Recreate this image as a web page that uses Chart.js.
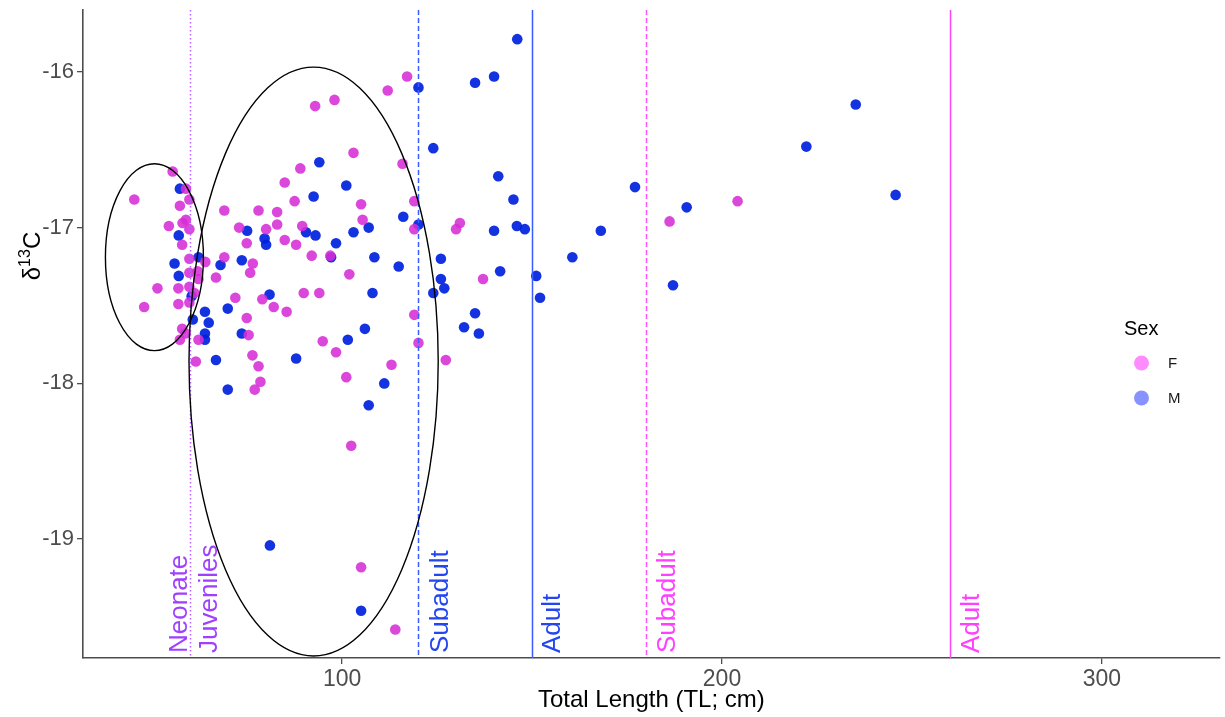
<!DOCTYPE html>
<html>
<head>
<meta charset="utf-8">
<title>d13C vs total length</title>
<script src="https://cdn.jsdelivr.net/npm/chart.js@4.4.0/dist/chart.umd.min.js"></script>
<style>
    html, body { margin: 0; padding: 0; background: #fff; }
    #wrap { width: 1225px; height: 717px; }
</style>
</head>
<body>
<div id="wrap"><canvas id="chart" width="1225" height="717"></canvas></div>
<script>
// females - total length (cm) and d13C
const femaleTL = [
    55.4, 58.9, 45.3, 59.8, 57.3, 69.0, 58.9, 58.0, 54.4, 59.8, 72.9, 57.9, 59.8, 64.0, 69.0, 62.0,
    59.8, 66.8, 62.2, 51.4, 56.9, 59.8, 61.1, 71.9, 47.9, 56.9, 59.8, 57.9, 58.8, 57.3, 62.2, 61.5,
    117.1, 112.0, 98.0, 92.9, 103.0, 89.0, 115.9, 84.9, 87.5, 105.0, 119.0, 78.0, 82.9, 105.4, 82.9, 80.0,
    89.5, 119.0, 74.9, 84.9, 87.9, 92.0, 96.9, 76.5, 75.8, 101.9, 79.0, 89.9, 94.0, 82.0, 85.4, 74.9,
    119.0, 75.4, 94.9, 98.4, 120.1, 127.3, 76.4, 78.0, 113.0, 101.1, 78.5, 77.0, 102.4, 204.1, 131.0, 130.0,
    186.2, 137.1, 105.0, 114.0
];
const femaleC13 = [
    -16.64, -16.75, -16.82, -16.82, -16.86, -16.89, -16.95, -16.97, -16.99, -17.01, -17.00, -17.11, -17.20, -17.22, -17.19, -17.28,
    -17.29, -17.32, -17.33, -17.39, -17.39, -17.38, -17.42, -17.45, -17.51, -17.49, -17.48, -17.65, -17.68, -17.72, -17.72, -17.86,
    -16.03, -16.12, -16.18, -16.22, -16.52, -16.62, -16.59, -16.71, -16.83, -16.85, -16.83, -16.89, -16.90, -16.95, -16.98, -17.01,
    -16.99, -17.01, -17.10, -17.08, -17.11, -17.18, -17.18, -17.23, -17.29, -17.30, -17.46, -17.42, -17.42, -17.51, -17.54, -17.58,
    -17.56, -17.69, -17.73, -17.80, -17.74, -17.85, -17.82, -17.89, -17.88, -17.96, -17.99, -18.04, -18.40, -16.83, -16.97, -17.01,
    -16.96, -17.33, -19.18, -19.58
];

// males
const maleTL = [
    57.3, 57.0, 62.2, 55.9, 68.0, 57.0, 60.4, 69.9, 63.9, 60.7, 64.9, 63.9, 63.9, 66.8, 73.6, 73.6,
    120.1, 124.0, 94.0, 101.1, 92.5, 116.1, 75.0, 90.5, 93.0, 103.0, 107.0, 120.1, 79.6, 80.0, 98.4, 97.1,
    108.5, 114.9, 126.0, 126.0, 126.9, 124.0, 80.9, 108.0, 106.0, 101.5, 87.9, 111.1, 69.9, 107.0,
    146.1, 140.0, 135.0, 141.1, 177.1, 145.1, 190.7, 140.0, 146.0, 148.1, 168.1, 160.6, 141.6, 151.1, 152.1, 187.1,
    135.0, 132.1, 136.0, 235.2, 222.2, 245.7, 81.0, 105.0
];
const maleC13 = [
    -16.75, -17.05, -17.19, -17.23, -17.24, -17.31, -17.44, -17.52, -17.54, -17.59, -17.61, -17.68, -17.72, -17.85, -17.68, -17.21,
    -16.10, -16.49, -16.58, -16.73, -16.80, -16.93, -17.02, -17.03, -17.05, -17.03, -17.00, -16.98, -17.07, -17.11, -17.10, -17.19,
    -17.19, -17.25, -17.20, -17.33, -17.39, -17.42, -17.43, -17.42, -17.65, -17.72, -17.84, -18.00, -18.04, -18.14,
    -15.79, -16.03, -16.07, -16.67, -16.74, -16.82, -16.87, -17.02, -16.99, -17.01, -17.02, -17.19, -17.28, -17.31, -17.45, -17.37,
    -17.55, -17.64, -17.68, -16.21, -16.48, -16.79, -19.04, -19.46
];

const xTicks = [100, 200, 300];
const yTicks = [-19, -18, -17, -16];

// life stage cut-offs (TL) and their labels
const stageLineTL = [60, 120, 150, 180, 260];
const stageLabels = ['Neonate', 'Juveniles', 'Subadult', 'Adult', 'Subadult', 'Adult'];
const stageLabelTL = [60, 60, 120, 150, 180, 260];

// the two hand drawn ellipses (centre and half axes, data units)
const ellipseTL = [50.6, 92.5];
const ellipseC13 = [-17.19, -17.86];
const ellipseHalfTL = [12.9, 32.8];
const ellipseHalfC13 = [0.60, 1.89];

const FONT = '"Liberation Sans", Arial, sans-serif';

// styles for the stage lines, same order as stageLineTL
const lineStyles = [
    { color: '#b561ff', dash: [1.5, 2.5] },
    { color: '#3a5cff', dash: [5, 3] },
    { color: '#3a5cff', dash: [] },
    { color: '#ff55ff', dash: [5, 3] },
    { color: '#ff44ff', dash: [] }
];
// label colour + baseline offset from its line (px)
const labelStyles = [
    { color: '#a040ff', dx: -3 },
    { color: '#a040ff', dx: 27 },
    { color: '#2446f0', dx: 30 },
    { color: '#2446f0', dx: 28 },
    { color: '#ff40ff', dx: 29 },
    { color: '#ff40ff', dx: 29 }
];

const toPoints = (xs, ys) => xs.map((x, i) => ({ x: x, y: ys[i] }));

const annotationsPlugin = {
    id: 'annotations',
    afterDatasetsDraw(chart) {
        const { ctx, chartArea, scales: { x, y } } = chart;
        ctx.save();
        ctx.beginPath();
        ctx.rect(chartArea.left, chartArea.top, chartArea.right - chartArea.left, chartArea.bottom - chartArea.top);
        ctx.clip();

        // vertical stage lines
        stageLineTL.forEach((tl, i) => {
            const px = Math.round(x.getPixelForValue(tl)) + 0.5;
            ctx.beginPath();
            ctx.setLineDash(lineStyles[i].dash);
            ctx.strokeStyle = lineStyles[i].color;
            ctx.lineWidth = 1.5;
            ctx.moveTo(px, chartArea.top);
            ctx.lineTo(px, chartArea.bottom);
            ctx.stroke();
        });
        ctx.setLineDash([]);

        // ellipses
        ellipseTL.forEach((cx, i) => {
            const px = x.getPixelForValue(cx);
            const py = y.getPixelForValue(ellipseC13[i]);
            const rx = Math.abs(x.getPixelForValue(cx + ellipseHalfTL[i]) - px);
            const ry = Math.abs(y.getPixelForValue(ellipseC13[i] + ellipseHalfC13[i]) - py);
            ctx.beginPath();
            ctx.ellipse(px, py, rx, ry, 0, 0, Math.PI * 2);
            ctx.strokeStyle = '#000';
            ctx.lineWidth = 1.4;
            ctx.stroke();
        });

        // rotated stage labels
        ctx.font = '26px ' + FONT;
        ctx.textAlign = 'left';
        ctx.textBaseline = 'alphabetic';
        stageLabels.forEach((label, i) => {
            const px = x.getPixelForValue(stageLabelTL[i]) + labelStyles[i].dx;
            ctx.save();
            ctx.translate(px, chartArea.bottom - 5);
            ctx.rotate(-Math.PI / 2);
            ctx.fillStyle = labelStyles[i].color;
            ctx.fillText(label, 0, 0);
            ctx.restore();
        });
        ctx.restore();
    },
    afterDraw(chart) {
        const { ctx } = chart;
        ctx.save();

        // y axis title: delta 13 C
        ctx.translate(40, 256);
        ctx.rotate(-Math.PI / 2);
        ctx.fillStyle = '#000';
        ctx.textBaseline = 'alphabetic';
        const big = '24px ' + FONT;
        const small = '16px ' + FONT;
        ctx.font = big;
        const wD = ctx.measureText('\u03B4').width;
        const wC = ctx.measureText('C').width;
        ctx.font = small;
        const w13 = ctx.measureText('13').width;
        let cx = -(wD + w13 + wC) / 2;
        ctx.textAlign = 'left';
        ctx.font = big;
        ctx.fillText('\u03B4', cx, 0);
        cx += wD;
        ctx.font = small;
        ctx.fillText('13', cx, -10);
        cx += w13;
        ctx.font = big;
        ctx.fillText('C', cx, 0);
        ctx.restore();

        // legend
        ctx.save();
        ctx.fillStyle = '#000';
        ctx.font = '20px ' + FONT;
        ctx.textBaseline = 'middle';
        ctx.textAlign = 'left';
        ctx.fillText('Sex', 1124, 329);
        const keys = [
            { label: 'F', color: 'rgba(255, 0, 255, 0.45)', y: 363 },
            { label: 'M', color: 'rgba(20, 40, 255, 0.5)', y: 398 }
        ];
        keys.forEach(k => {
            ctx.beginPath();
            ctx.arc(1141.5, k.y, 7.5, 0, Math.PI * 2);
            ctx.fillStyle = k.color;
            ctx.fill();
            ctx.fillStyle = '#1a1a1a';
            ctx.font = '15px ' + FONT;
            ctx.fillText(k.label, 1168, k.y + 1);
        });
        ctx.restore();
    }
};

// drop the extra room Chart.js keeps for half tick labels
const noPadding = s => {
    s.paddingTop = 0;
    s.paddingBottom = 0;
    s.paddingLeft = 0;
    s.paddingRight = 0;
};

const axisCommon = {
    grid: { drawOnChartArea: false, drawTicks: true, tickLength: 6, color: '#4d4d4d', lineWidth: 1.3 },
    border: { display: true, color: '#4d4d4d', width: 1.6 }
};

new Chart(document.getElementById('chart'), {
    type: 'scatter',
    data: {
        datasets: [
            {
                label: 'F',
                data: toPoints(femaleTL, femaleC13),
                pointRadius: 5.3,
                pointBorderWidth: 0,
                pointBackgroundColor: 'rgba(214, 46, 214, 0.88)'
            },
            {
                label: 'M',
                data: toPoints(maleTL, maleC13),
                pointRadius: 5.3,
                pointBorderWidth: 0,
                pointBackgroundColor: 'rgba(0, 34, 221, 0.92)'
            }
        ]
    },
    options: {
        responsive: false,
        animation: false,
        layout: { padding: { top: 10, right: 3, bottom: 0, left: 0 } },
        plugins: {
            legend: { display: false },
            tooltip: { enabled: false }
        },
        scales: {
            x: {
                type: 'linear',
                min: 31.8,
                max: 331,
                afterBuildTicks: s => { s.ticks = xTicks.map(v => ({ value: v })); },
                afterFit: s => { s.height = 59; noPadding(s); },
                ticks: { font: { family: FONT, size: 23 }, color: '#4d4d4d', padding: 2, maxRotation: 0 },
                title: {
                    display: true,
                    text: 'Total Length (TL; cm)',
                    color: '#000',
                    font: { family: FONT, size: 24 },
                    padding: { top: 0, bottom: 2 }
                },
                ...axisCommon
            },
            y: {
                type: 'linear',
                min: -19.763,
                max: -15.603,
                afterBuildTicks: s => { s.ticks = yTicks.map(v => ({ value: v })); },
                afterFit: s => { s.width = 83; noPadding(s); },
                ticks: { font: { family: FONT, size: 22 }, color: '#4d4d4d', padding: 3 },
                ...axisCommon
            }
        }
    },
    plugins: [annotationsPlugin]
});
</script>
</body>
</html>
